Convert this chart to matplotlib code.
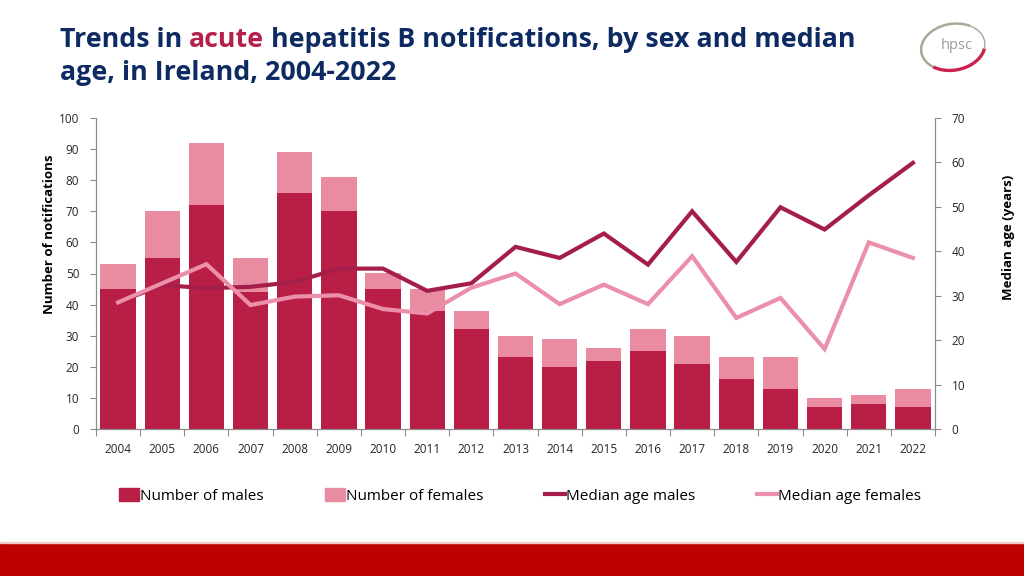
import matplotlib
matplotlib.use("Agg")
import matplotlib.pyplot as plt
import numpy as np
from matplotlib.patches import Rectangle, Arc, Patch
from matplotlib.lines import Line2D

years = ["2004", "2005", "2006", "2007", "2008", "2009", "2010", "2011", "2012", "2013",
         "2014", "2015", "2016", "2017", "2018", "2019", "2020", "2021", "2022"]
males = [45, 55, 72, 44, 76, 70, 45, 38, 32, 23, 20, 22, 25, 21, 16, 13, 7, 8, 7]
totals = [53, 70, 92, 55, 89, 81, 50, 45, 38, 30, 29, 26, 32, 30, 23, 23, 10, 11, 13]
females = [t - m for t, m in zip(totals, males)]
median_males = [28.5, 32.4, 31.7, 32.0, 33.1, 36.1, 36.1, 31.1, 32.8, 41.0,
                38.5, 44.0, 37.0, 49.0, 37.6, 49.9, 44.9, 52.6, 59.9]
median_females = [28.5, 32.8, 37.1, 27.9, 29.8, 30.1, 27.0, 26.0, 31.8, 35.0,
                  28.1, 32.5, 28.1, 38.9, 25.0, 29.5, 18.0, 42.0, 38.5]

C_MALE = "#B91F46"
C_FEMALE = "#E98BA1"
C_LMALE = "#A51E4A"
C_LFEMALE = "#EB8FAA"
NAVY = "#0E2A62"
GRAY = "#8C8C8C"

plt.rcParams['font.family'] = ['Open Sans', 'DejaVu Sans']

fig = plt.figure(figsize=(10.24, 5.76), dpi=100)
W, H = 1024, 576
ax = fig.add_axes([96 / W, 1 - 429 / H, (935 - 96) / W, (429 - 118) / H])
ax2 = ax.twinx()

x = np.arange(len(years))
ax.bar(x, males, width=0.8, color=C_MALE, zorder=2)
ax.bar(x, females, width=0.8, bottom=males, color=C_FEMALE, zorder=2)

ax2.plot(x, median_males, color=C_LMALE, lw=3, solid_joinstyle='miter', zorder=3)
ax2.plot(x, median_females, color=C_LFEMALE, lw=3, solid_joinstyle='miter', zorder=4)

ax.set_xlim(-0.5, len(years) - 0.5)
ax.set_ylim(0, 100)
ax2.set_ylim(0, 70)
ax.set_yticks(range(0, 101, 10))
ax2.set_yticks(range(0, 71, 10))
ax.set_xticks(x)
ax.set_xticklabels(years)
ax.set_xticks(np.arange(-0.5, len(years), 1), minor=True)

for a in (ax, ax2):
    a.spines['top'].set_visible(False)
    for s in ('left', 'right', 'bottom'):
        a.spines[s].set_color(GRAY)
        a.spines[s].set_linewidth(0.8)
    a.tick_params(axis='y', colors=GRAY, labelcolor='#262626', labelsize=8.5, length=4, width=0.8, pad=8)

ax.tick_params(axis='x', which='major', length=0, labelsize=8.5, labelcolor='#262626', pad=10)
ax.tick_params(axis='x', which='minor', length=5, color=GRAY, width=0.8)

ax.set_ylabel("Number of notifications", fontsize=9.5, fontweight='bold')
ax2.set_ylabel("Median age (years)", fontsize=9.5, fontweight='bold')
ax.yaxis.set_label_coords((56 - 96) / 839, (429 - 234) / 311)
ax2.yaxis.set_label_coords((1002 - 96) / 839, (429 - 237) / 311)

# Title
TS = 19.3
t1 = fig.text(60 / W, 1 - 40 / H, "Trends in ", fontsize=TS, fontweight='bold', color=NAVY,
              va='center', ha='left')
fig.canvas.draw()
r = fig.canvas.get_renderer()
bb = t1.get_window_extent(r)
t2 = fig.text(bb.x1 / W, 1 - 40 / H, "acute", fontsize=TS, fontweight='bold', color="#B5214C",
              va='center', ha='left')
bb2 = t2.get_window_extent(r)
fig.text(bb2.x1 / W, 1 - 40 / H, " hepatitis B notifications, by sex and median",
         fontsize=TS, fontweight='bold', color=NAVY, va='center', ha='left')
fig.text(60 / W, 1 - 73 / H, "age, in Ireland, 2004-2022", fontsize=TS, fontweight='bold',
         color=NAVY, va='center', ha='left')

# Legend
handles = [Patch(color=C_MALE), Patch(color=C_FEMALE),
           Line2D([], [], color=C_LMALE, lw=3), Line2D([], [], color=C_LFEMALE, lw=3)]
labels = ["Number of males", "Number of females", "Median age males", "Median age females"]
fig.legend(handles, labels, loc='center', bbox_to_anchor=(520 / W, 1 - 496 / H), ncol=4,
           frameon=False, fontsize=11, handlelength=1.3, handletextpad=0.1,
           columnspacing=4.0, handleheight=0.9)

# Bottom band
fig.patches.append(Rectangle((0, 0), 1, 33 / H, transform=fig.transFigure,
                             color="#BC0000", zorder=0))
fig.patches.append(Rectangle((0, 33 / H), 1, 1.5 / H, transform=fig.transFigure,
                             color="#F3C9C9", zorder=0))

# Logo
lax = fig.add_axes([918 / W, 1 - 80 / H, 70 / W, 66 / H])
lax.set_xlim(0, 1)
lax.set_ylim(0, 1)
lax.axis('off')
lax.add_patch(Arc((0.5, 0.5), 0.92, 0.7, angle=12, theta1=40, theta2=215, color="#A9A99A", lw=1.8))
lax.add_patch(Arc((0.5, 0.5), 0.92, 0.7, angle=12, theta1=215, theta2=345, color="#C8244C", lw=2.4))
lax.add_patch(Arc((0.5, 0.5), 0.92, 0.7, angle=12, theta1=345, theta2=40, color="#A9A99A", lw=1.0))
lax.text(0.55, 0.52, "hpsc", fontsize=10.5, color="#9A9A9A", ha='center', va='center')

fig.savefig("out.png", dpi=100, facecolor='white')
